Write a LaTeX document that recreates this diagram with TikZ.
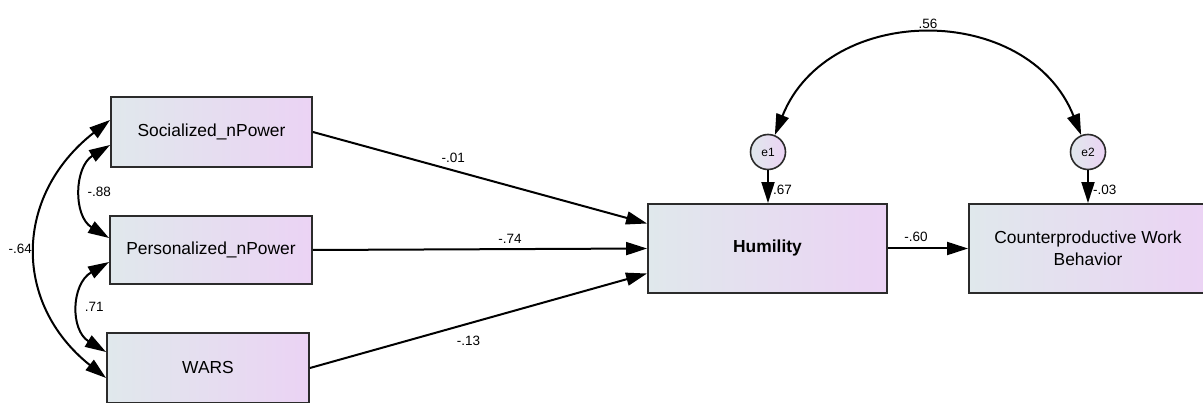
\documentclass[tikz,border=0pt]{standalone}
\usepackage{fontspec}
\setmainfont{Liberation Sans}
\usetikzlibrary{arrows.meta}
\definecolor{gleft}{HTML}{E0E8EC}
\definecolor{gright}{HTML}{EBD3F4}
\definecolor{edge}{HTML}{2B2B2B}
\begin{document}
\begin{tikzpicture}[x=1pt,y=-1pt,
  var/.style={rectangle, draw=edge, line width=1.9pt, left color=gleft, right color=gright,
    inner sep=0pt, align=center, font=\fontsize{17.4}{22}\selectfont},
  err/.style={circle, draw=edge, line width=1.6pt, left color=gleft, right color=gright,
    minimum size=35pt, inner sep=0pt, font=\fontsize{12}{14}\selectfont},
  reg/.style={line width=2pt, -{Triangle[length=21pt,width=13pt]}},
  cov/.style={line width=2pt, {Triangle[length=21pt,width=13pt]}-{Triangle[length=21pt,width=13pt]}},
  lab/.style={font=\fontsize{13.5}{15}\selectfont, inner sep=1pt}
]
\useasboundingbox (0,0) rectangle (1203,403);
\node[var, minimum width=201pt, minimum height=70pt] (soc) at (211.5,132) {Socialized\_nPower};
\node[var, minimum width=202pt, minimum height=68pt] (per) at (211,250) {Personalized\_nPower};
\node[var, minimum width=202pt, minimum height=70pt] (wars) at (208,368) {WARS};
\node[var, minimum width=239pt, minimum height=89pt, font=\fontsize{17.4}{22}\selectfont\bfseries] (hum) at (767.5,248.5) {Humility};
\node[var, minimum width=238pt, minimum height=89pt] (cwb) at (1088,248.5) {Counterproductive Work\\Behavior};
\node[err] (e1) at (768,152) {e1};
\node[err] (e2) at (1088,152) {e2};

\draw[reg] (soc.east) -- node[lab, pos=.42, anchor=south, yshift=6pt] {-.01} ([yshift=25pt]hum.west);
\draw[reg] (per.east) -- node[lab, pos=.59, anchor=south, yshift=4pt] {-.74} (hum.west);
\draw[reg] (wars.east) -- node[lab, pos=.47, anchor=north, yshift=-10pt] {-.13} ([yshift=-25pt]hum.west);
\draw[reg] (hum.east) -- node[lab, pos=.35, anchor=south, yshift=5pt] {-.60} (cwb.west);
\draw[reg] (e1.south) -- node[lab, pos=.6, anchor=west, xshift=3pt] {.67} (e1 |- hum.north);
\draw[reg] (e2.south) -- node[lab, pos=.6, anchor=west, xshift=3pt] {-.03} (e2 |- cwb.north);

\draw[cov] (e1.68) .. controls +(53,-133) and +(-53,-133) .. node[lab, pos=.5, anchor=south, yshift=5pt] {.56} (e2.112);

\draw[cov] ([yshift=-13pt]soc.west) .. controls +(-36,22) and +(-36,-22) .. node[lab, pos=.5, anchor=west, xshift=3pt] {-.88} ([yshift=12pt]per.west);
\draw[cov] ([yshift=-12pt]per.west) .. controls +(-38,22) and +(-36,-22) .. node[lab, pos=.5, anchor=west, xshift=3pt] {.71} ([yshift=16pt]wars.west);
\draw[cov] ([yshift=12pt]soc.west) .. controls +(-96,75) and +(-94,-75) .. node[lab, pos=.5, anchor=east, xshift=-3pt] {-.64} ([yshift=-10pt]wars.west);
\end{tikzpicture}
\end{document}
